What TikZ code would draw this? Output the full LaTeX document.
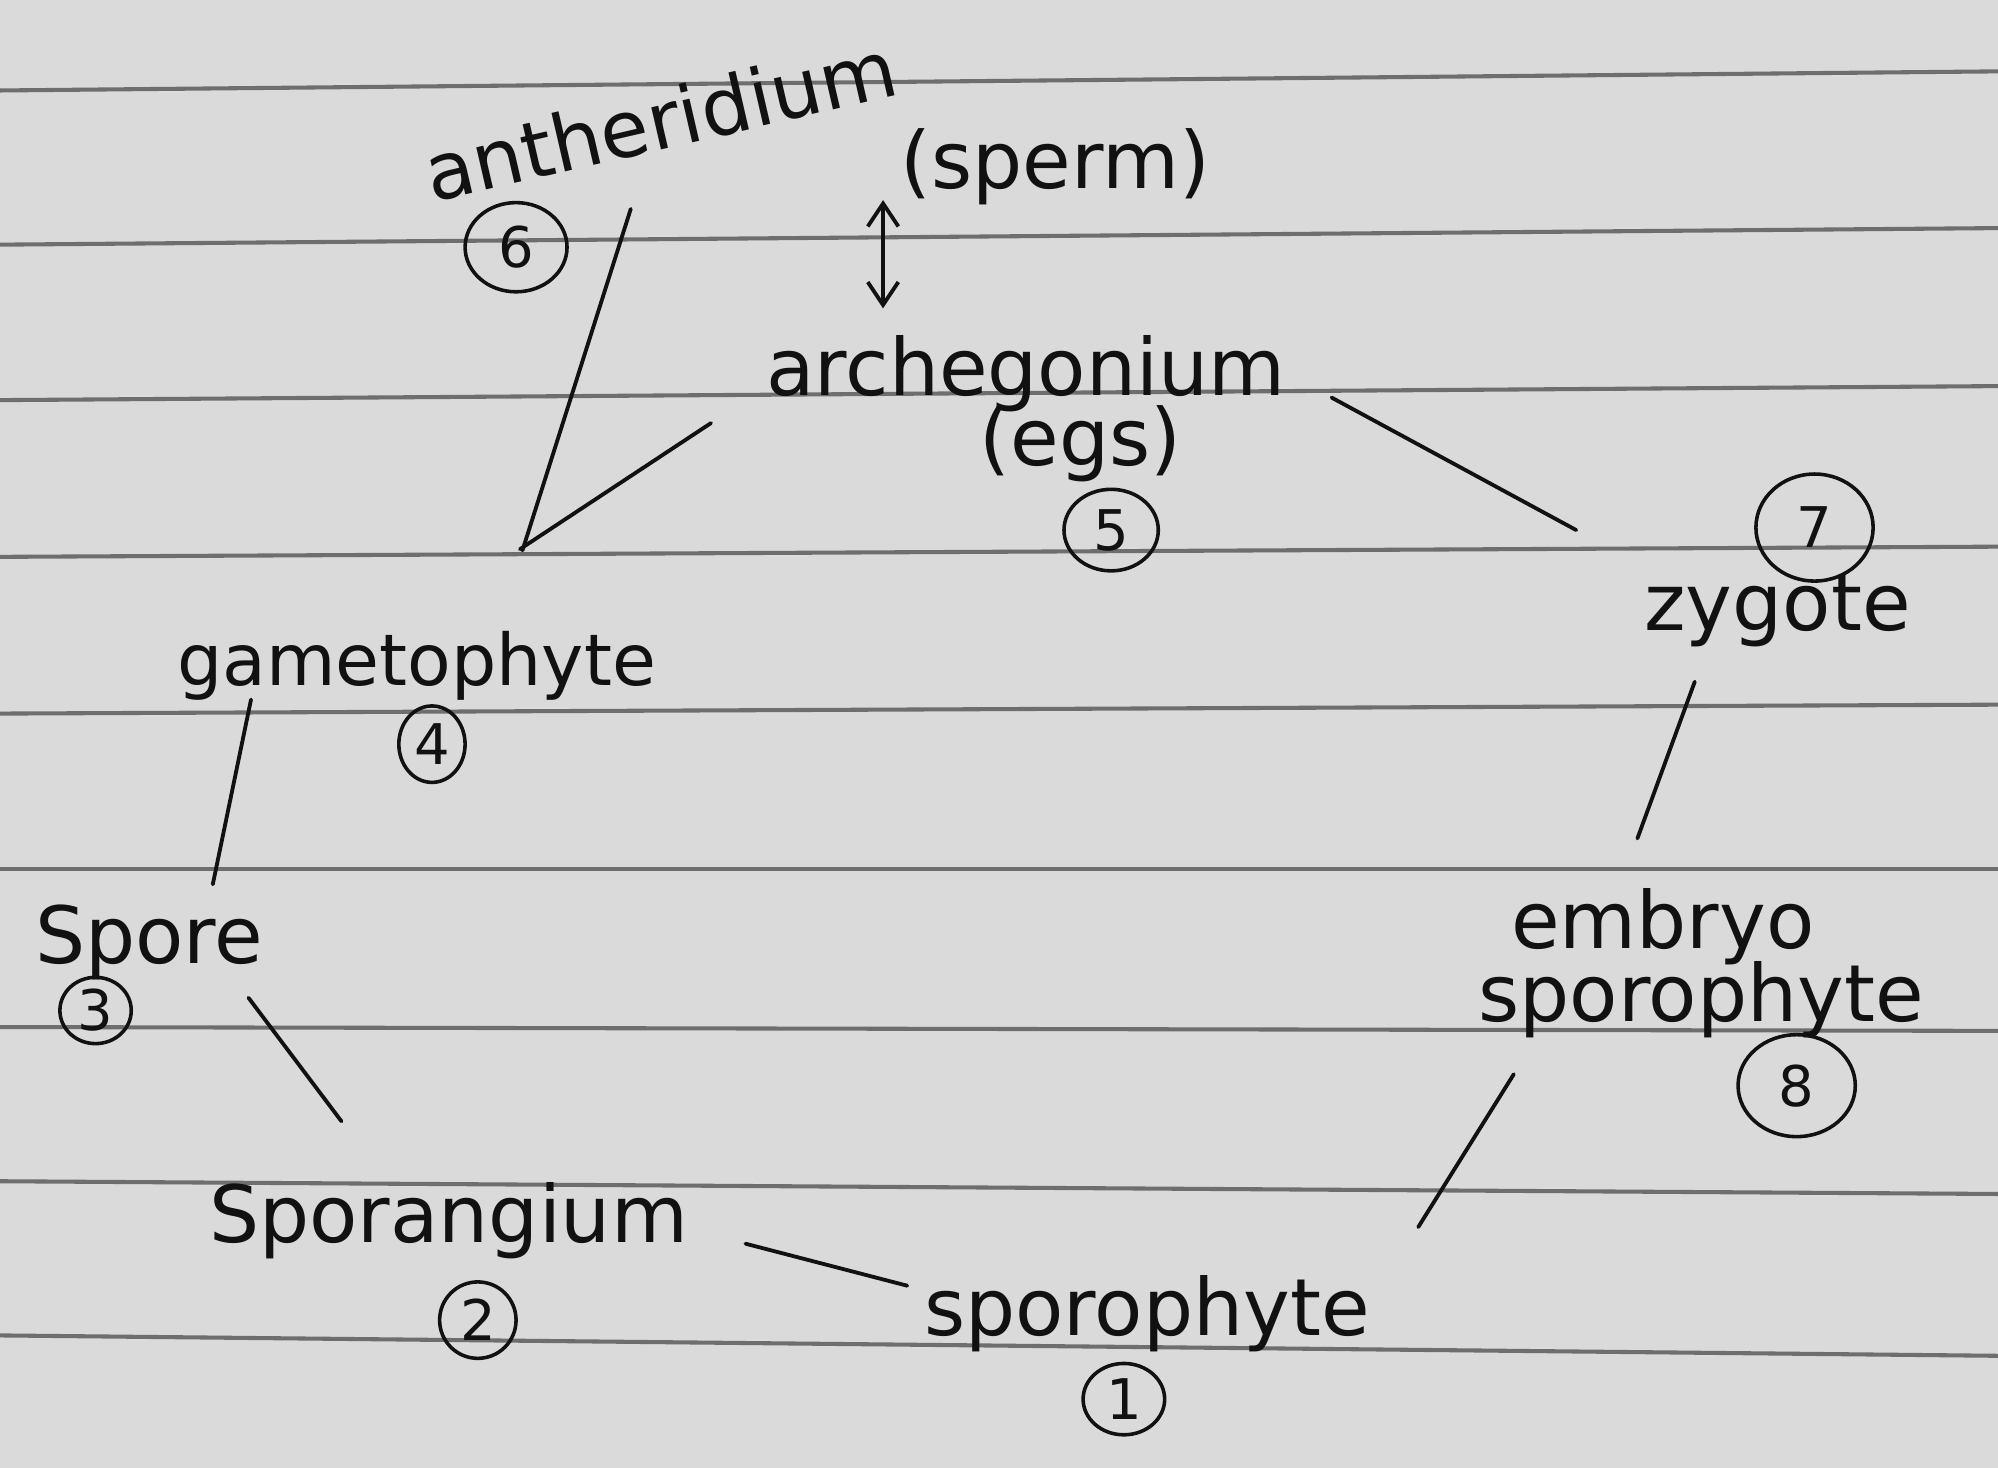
\documentclass[tikz,border=0pt]{standalone}
\usepackage{fontspec}
\setmainfont{DejaVu Sans}
\usetikzlibrary{arrows.meta,shapes.geometric}
\definecolor{paper}{HTML}{DADADA}
\definecolor{ruleclr}{HTML}{6E6E6E}
\definecolor{ink}{HTML}{111111}
\begin{document}
\begin{tikzpicture}[x=0.5pt,y=-0.5pt,
  rulestyle/.style={draw=ruleclr,line width=1.6pt},
  pen/.style={draw=ink,line width=1.5pt,line cap=round},
  lbl/.style={text=ink,font=\fontsize{31}{34}\selectfont,inner sep=0pt,anchor=base},
  num/.style={draw=ink,line width=1.4pt,ellipse,inner sep=0pt,text=ink,font=\fontsize{22}{24}\selectfont}]
\fill[paper] (0,0) rectangle (1568,1152);
\useasboundingbox (0,0) rectangle (1568,1152);
% ruled lines
\draw[rulestyle] (0,71) -- (1568,56);
\draw[rulestyle] (0,192) -- (1568,179);
\draw[rulestyle] (0,314) -- (1568,303);
\draw[rulestyle] (0,437) -- (1568,429);
\draw[rulestyle] (0,560) -- (1568,553);
\draw[rulestyle] (0,682) -- (1568,682);
\draw[rulestyle] (0,806) -- (1568,809);
\draw[rulestyle] (0,927) -- (1568,937);
\draw[rulestyle] (0,1048) -- (1568,1064);
% labels
\node[lbl,anchor=center,rotate=13] (anth) at (518,94) {antheridium};
\node[num,minimum width=40pt,minimum height=35pt] (c6) at (405,194) {6};
\node[lbl] (sperm) at (828,148) {(sperm)};
\node[lbl] (arch) at (805,310) {archegonium};
\node[lbl] (eggs) at (848,365) {(egs)};
\node[num,minimum width=37pt,minimum height=32pt] (c5) at (872,416) {5};
\node[num,minimum width=46pt,minimum height=42pt] (c7) at (1424,414) {7};
\node[lbl] (zyg) at (1395,495) {zygote};
\node[lbl,font=\fontsize{28}{32}\selectfont] (game) at (327,538) {gametophyte};
\node[num,minimum width=26pt,minimum height=30pt] (c4) at (339,584) {4};
\node[lbl] (spore) at (117,756) {Spore};
\node[num,minimum width=28pt,minimum height=26pt] (c3) at (75,793) {3};
\node[lbl] (embryo) at (1305,744) {embryo};
\node[lbl] (esporo) at (1335,802) {sporophyte};
\node[num,minimum width=46pt,minimum height=40pt] (c8) at (1410,852) {8};
\node[lbl] (sporang) at (352,975) {Sporangium};
\node[num,minimum width=30pt,minimum height=30pt] (c2) at (375,1036) {2};
\node[lbl] (sporo) at (900,1048) {sporophyte};
\node[num,minimum width=32pt,minimum height=28pt] (c1) at (882,1098) {1};
% connector end points
\coordinate (a1) at (495,164); \coordinate (a2) at (410,432);
\coordinate (b1) at (558,332); \coordinate (b2) at (408,431);
\coordinate (d1) at (1045,312); \coordinate (d2) at (1237,416);
\coordinate (e1) at (1330,535); \coordinate (e2) at (1285,658);
\coordinate (f1) at (197,549); \coordinate (f2) at (167,694);
\coordinate (g1) at (195,783); \coordinate (g2) at (268,880);
\coordinate (h1) at (585,976); \coordinate (h2) at (712,1009);
\coordinate (k1) at (1113,963); \coordinate (k2) at (1188,843);
\coordinate (ar1) at (693,157); \coordinate (ar2) at (693,242);
% connectors
\draw[pen] (a1) -- (a2);
\draw[pen] (b1) -- (b2);
\draw[pen] (d1) -- (d2);
\draw[pen] (e1) -- (e2);
\draw[pen] (f1) -- (f2);
\draw[pen] (g1) -- (g2);
\draw[pen] (h1) -- (h2);
\draw[pen] (k1) -- (k2);
\draw[pen,{Straight Barb[length=9pt,width=12pt]}-{Straight Barb[length=9pt,width=12pt]}] (ar1) -- (ar2);
\end{tikzpicture}
\end{document}
